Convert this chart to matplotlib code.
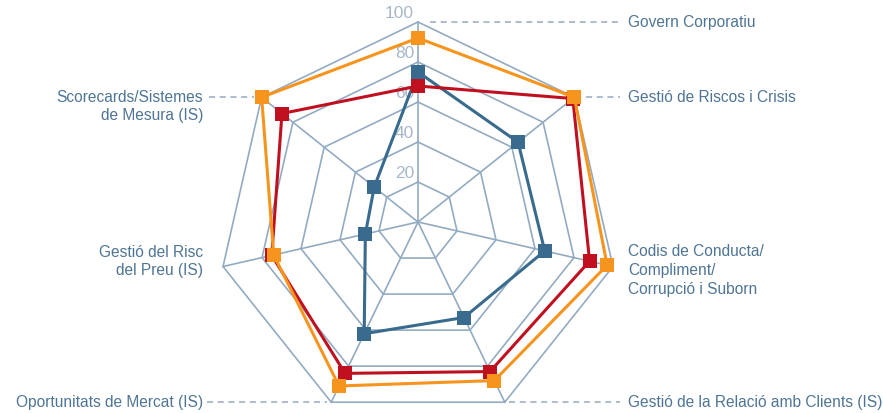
import numpy as np
import matplotlib
matplotlib.use("Agg")
import matplotlib.pyplot as plt

plt.rcParams["font.family"] = ["Liberation Sans", "DejaVu Sans"]

# Categories clockwise from the top
categories = [
    "Govern Corporatiu",
    "Gestió de Riscos i Crisis",
    "Codis de Conducta/\nCompliment/\nCorrupció i Suborn",
    "Gestió de la Relació amb Clients (IS)",
    "Oportunitats de Mercat (IS)",
    "Gestió del Risc\ndel Preu (IS)",
    "Scorecards/Sistemes\nde Mesura (IS)",
]

blue_vals = [75, 64, 65, 53, 62, 27, 28]
red_vals = [68, 99, 88, 83, 84, 75, 87]
orange_vals = [92, 100, 97, 88, 91, 74, 100]

ring_vals = [20, 40, 60, 80, 100]

grid_col = "#93abc2"
text_col = "#4f7596"
tick_col = "#a7b8ca"
blue = "#386b8e"
red = "#c0101f"
orange = "#f7941d"

n = len(categories)
theta = np.arange(n) * 2 * np.pi / n


def xy(vals):
    v = np.asarray(vals, dtype=float)
    x = v * np.sin(theta)
    y = v * np.cos(theta)
    return np.append(x, x[0]), np.append(y, y[0])


fig = plt.figure(figsize=(8.83, 4.13), dpi=100)
ax = fig.add_axes([0, 0, 1, 1])
ax.set_xlim(-209, 232.5)
ax.set_ylim(-95.5, 111)
ax.set_aspect("equal")
ax.axis("off")

# grid rings and spokes
for r in ring_vals:
    gx, gy = xy([r] * n)
    ax.plot(gx, gy, color=grid_col, lw=1.2, zorder=1)
for t in theta:
    ax.plot([0, 100 * np.sin(t)], [0, 100 * np.cos(t)], color=grid_col, lw=1.2, zorder=1)

# ring labels
for r in ring_vals:
    ax.text(-2, r + 4.5, str(r), ha="right", va="center", color=tick_col,
            fontsize=12.5, zorder=2)

# series
for vals, col in [(blue_vals, blue), (red_vals, red), (orange_vals, orange)]:
    sx, sy = xy(vals)
    ax.plot(sx, sy, color=col, lw=2.2, marker="s", markersize=10,
            markeredgewidth=0, zorder=3)

# category labels with dashed leaders
vx = 100 * np.sin(theta)
vy = 100 * np.cos(theta)
right_x = 105
left_x = -107.5
fs = 11.2
lead = dict(color=grid_col, lw=1.1, ls=(0, (4, 3)), zorder=1)

ax.plot([6, right_x - 4], [vy[0], vy[0]], **lead)
ax.text(right_x, vy[0], categories[0], ha="left", va="center", color=text_col, fontsize=fs)

ax.plot([vx[1] + 6, right_x - 4], [vy[1], vy[1]], **lead)
ax.text(right_x, vy[1], categories[1], ha="left", va="center", color=text_col, fontsize=fs)

ax.text(right_x, vy[2] - 2, categories[2], ha="left", va="center", color=text_col,
        fontsize=fs, linespacing=1.3)

ax.plot([vx[3] + 2, right_x - 4], [vy[3], vy[3]], **lead)
ax.text(right_x, vy[3], categories[3], ha="left", va="center", color=text_col, fontsize=fs)

ax.plot([left_x + 2, vx[4] - 2], [vy[4], vy[4]], **lead)
ax.text(left_x, vy[4], categories[4], ha="right", va="center", color=text_col, fontsize=fs)

ax.text(left_x, vy[5] + 2.5, categories[5], ha="right", va="center", color=text_col,
        fontsize=fs, linespacing=1.3)

ax.plot([left_x + 3, vx[6] - 4], [vy[6], vy[6]], **lead)
ax.text(left_x, vy[6] - 4.5, categories[6], ha="right", va="center", color=text_col,
        fontsize=fs, linespacing=1.2)

fig.savefig("out.png", dpi=100)
